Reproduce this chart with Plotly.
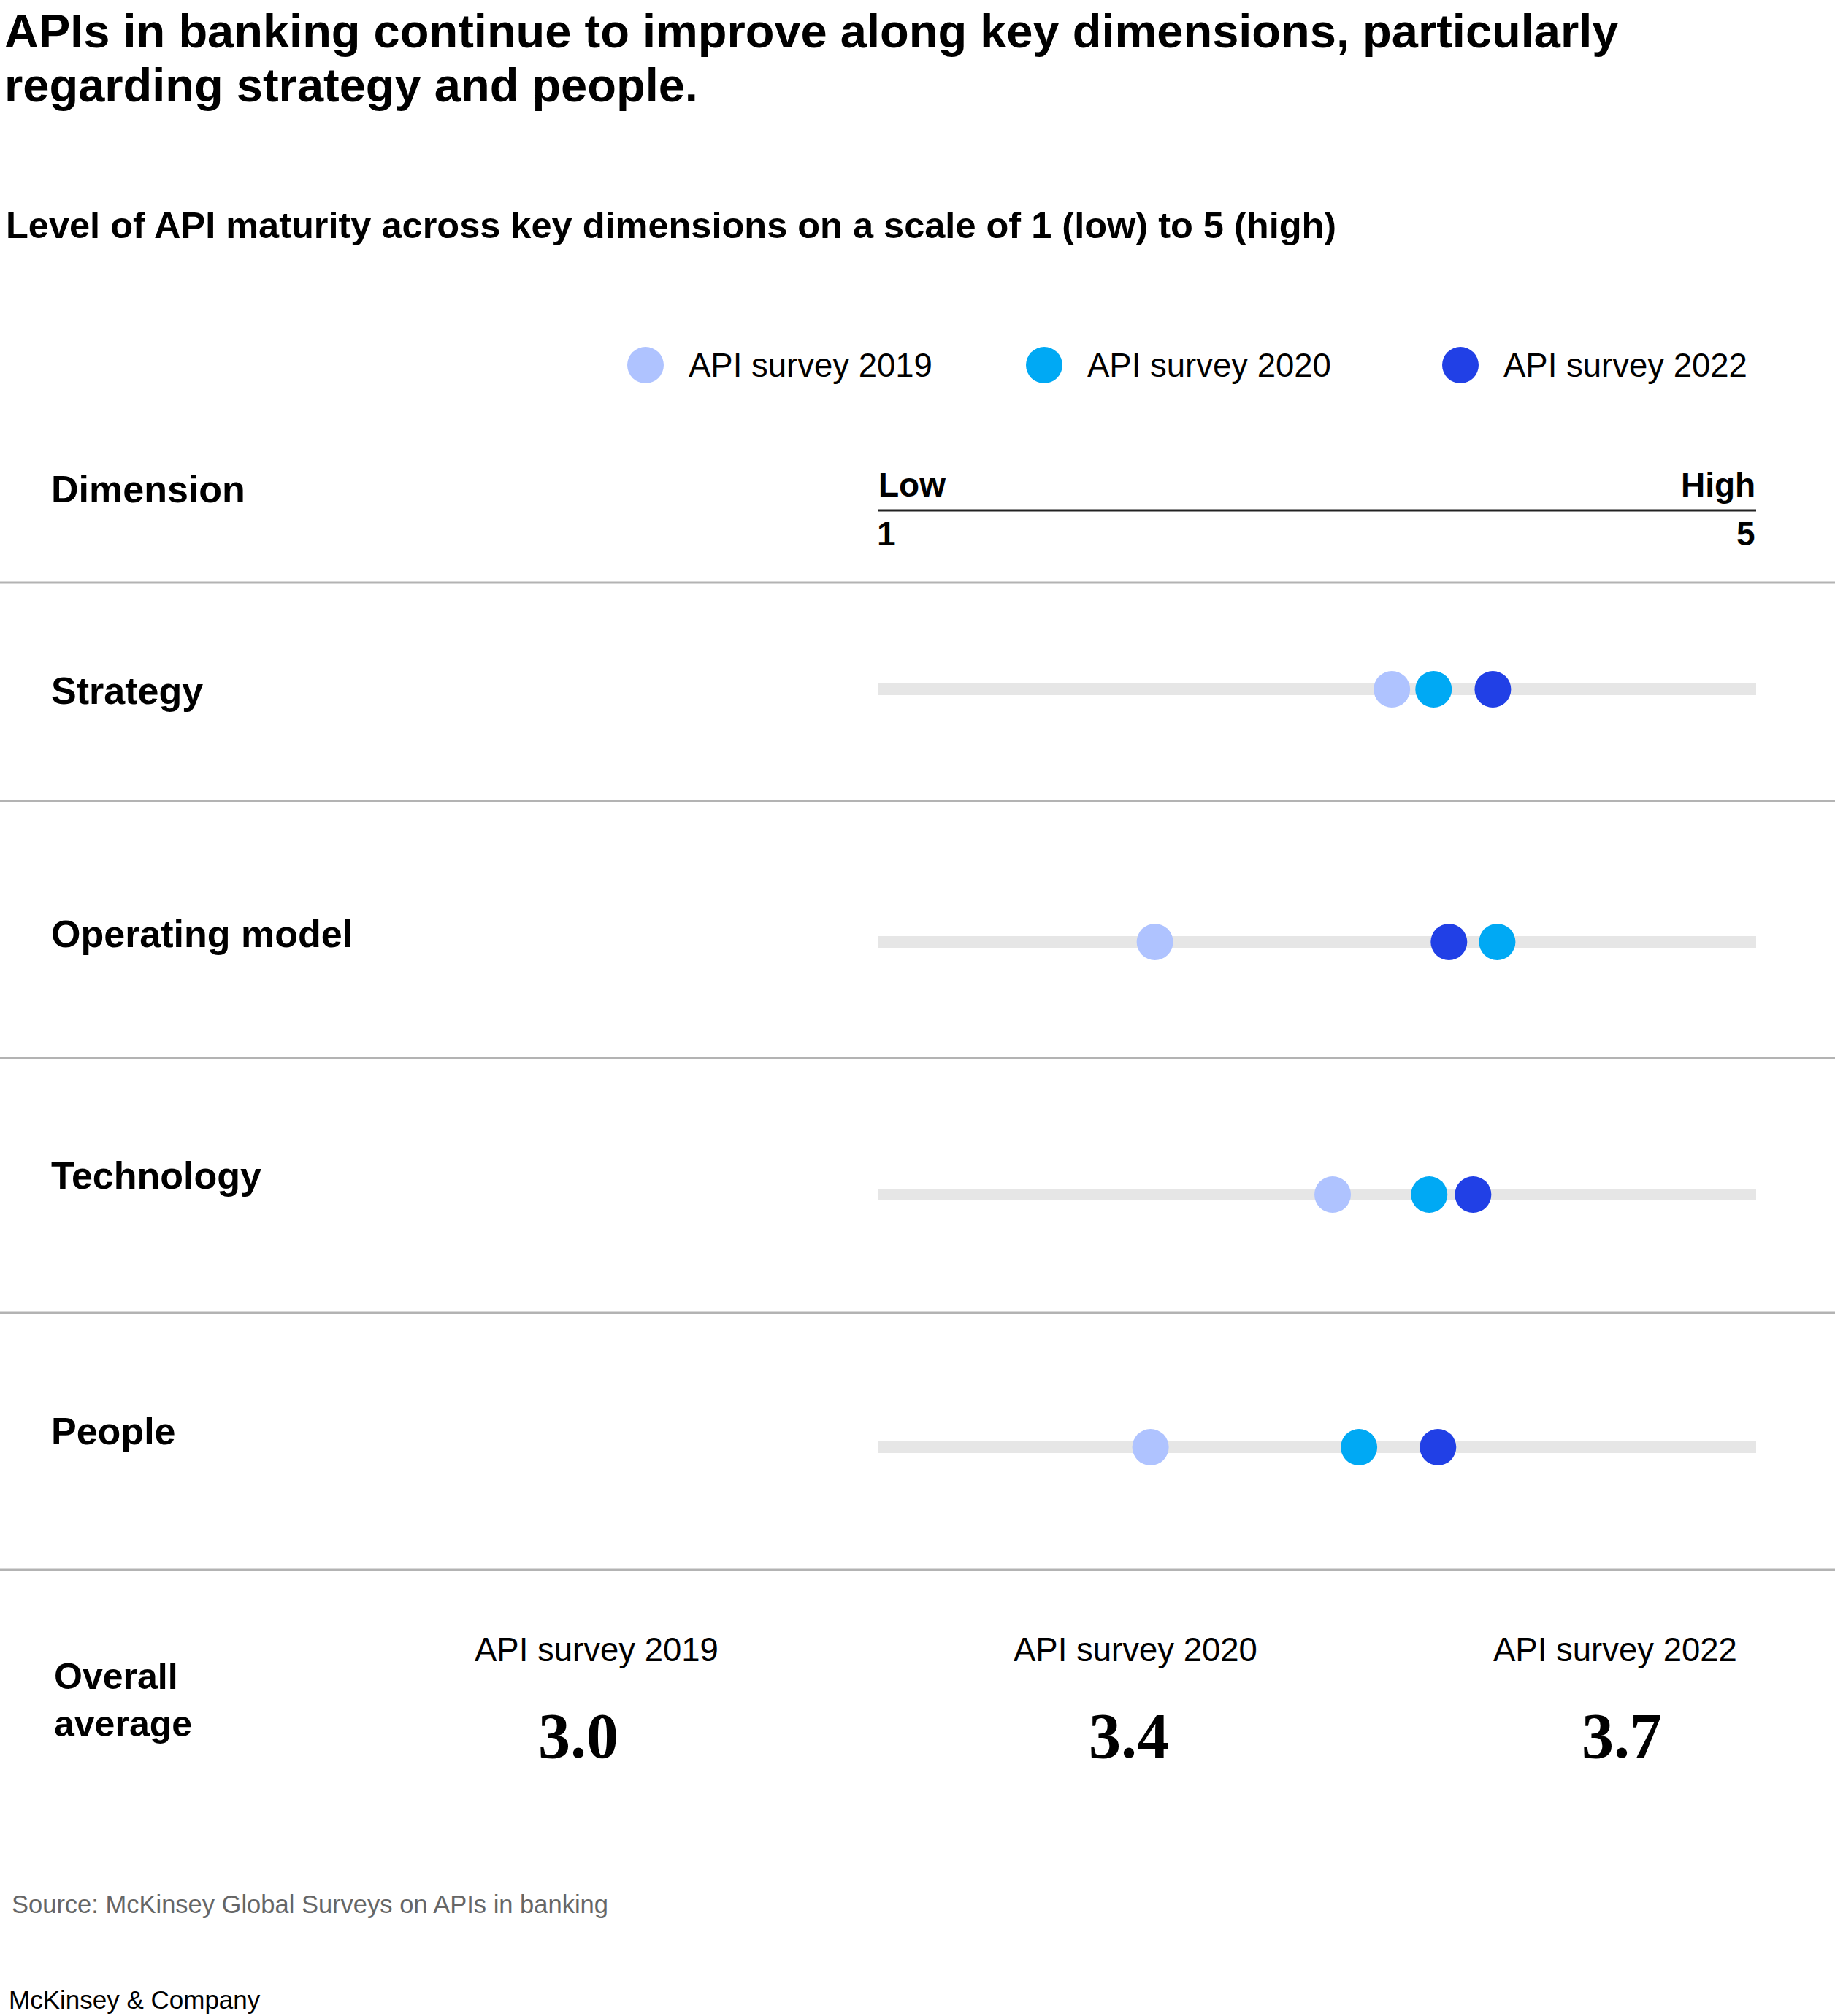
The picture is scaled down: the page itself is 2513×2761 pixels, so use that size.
import plotly.graph_objects as go

# ---------------- data ----------------
dimensions = ["Strategy", "Operating model", "Technology", "People"]
series_names = ["API survey 2019", "API survey 2020", "API survey 2022"]
values_2019 = [3.34, 2.26, 3.07, 2.24]
values_2020 = [3.53, 3.82, 3.51, 3.19]
values_2022 = [3.80, 3.60, 3.71, 3.55]
overall_avg = [3.0, 3.4, 3.7]
scale_min, scale_max = 1, 5
scale_labels = ["Low", "High"]

# ---------------- styles ----------------
W, H = 2513, 2761
colors = ["#AFC3FF", "#00A9F4", "#2140E6"]
track_color = "#E6E6E6"
sans = "Liberation Sans, Arial, sans-serif"
serif = "Liberation Serif, Times New Roman, serif"


def xp(px):
    return px / W


def yp(px):
    return 1 - px / H


row_px = 346
fig = go.Figure()

# track bars
fig.add_trace(go.Bar(
    y=dimensions,
    x=[scale_max - scale_min] * len(dimensions),
    base=[scale_min] * len(dimensions),
    orientation="h",
    width=16 / row_px,
    marker=dict(color=track_color, line=dict(width=0)),
    hoverinfo="skip",
    showlegend=False,
))

for name, vals, col in zip(series_names, [values_2019, values_2020, values_2022], colors):
    fig.add_trace(go.Scatter(
        x=vals, y=dimensions, mode="markers", name=name,
        marker=dict(size=50, color=col, line=dict(width=0)),
        cliponaxis=False, showlegend=False,
    ))

annotations = []
shapes = []


def txt(text, x, y, size, bold=False, anchor="left", color="#000", family=sans):
    t = f"<b>{text}</b>" if bold else text
    annotations.append(dict(
        text=t, x=x, y=y, xref="paper", yref="paper", xanchor=anchor, yanchor="middle",
        showarrow=False, align=anchor if anchor != "center" else "center",
        font=dict(family=family, size=size, color=color),
    ))


# title & subtitle
txt("APIs in banking continue to improve along key dimensions, particularly", xp(4), yp(43), 65, bold=True)
txt("regarding strategy and people.", xp(4), yp(117), 65, bold=True)
txt("Level of API maturity across key dimensions on a scale of 1 (low) to 5 (high)", xp(6), yp(308), 50.5, bold=True)

# legend
legend_dot_x = [884, 1430, 2000]
for name, col, lx in zip(series_names, colors, legend_dot_x):
    shapes.append(dict(type="circle", xref="paper", yref="paper", xsizemode="pixel", ysizemode="pixel",
                       xanchor=xp(lx), yanchor=yp(500), x0=-25, x1=25, y0=-25, y1=25,
                       fillcolor=col, line=dict(width=0)))
    txt(name, xp(lx + 57), yp(500), 45.5)

# header
txt("Dimension", xp(68), yp(670), 52, bold=True)
txt(scale_labels[0], xp(1201), yp(664), 46, bold=True)
txt(scale_labels[1], xp(2406), yp(664), 46, bold=True, anchor="right")
txt(str(scale_min), xp(1199), yp(731), 46, bold=True)
txt(str(scale_max), xp(2406), yp(731), 46, bold=True, anchor="right")
shapes.append(dict(type="line", xref="paper", yref="paper", x0=xp(1203), x1=xp(2405), y0=yp(699), y1=yp(699),
                   line=dict(color="#222222", width=3)))

# row separators
for ypx in [798, 1097, 1449, 1798, 2150]:
    shapes.append(dict(type="line", xref="paper", yref="paper", x0=0, x1=1, y0=yp(ypx), y1=yp(ypx),
                       line=dict(color="#B3B3B3", width=3)))

# row labels
label_y_px = [946, 1279, 1610, 1960]
for d, ly in zip(dimensions, label_y_px):
    txt(d, xp(68), yp(ly), 52, bold=True)

# overall average
txt("Overall<br>average", xp(72), yp(2328), 50, bold=True)
head_x = [817, 1555, 2212]
num_x = [792, 1546, 2221]
for name, hx, nx, v in zip(series_names, head_x, num_x, overall_avg):
    txt(name, xp(hx), yp(2259), 45.5, anchor="center")
    txt(f"{v:.1f}", xp(nx), yp(2377), 88, bold=True, anchor="center", family=serif)

# footer
txt("Source: McKinsey Global Surveys on APIs in banking", xp(14), yp(2608), 34.5, color="#666666")
txt("McKinsey & Company", xp(10), yp(2738), 35, color="#000000")

fig.update_layout(
    width=W, height=H,
    margin=dict(l=0, r=0, t=0, b=0),
    paper_bgcolor="white", plot_bgcolor="white",
    showlegend=False,
    bargap=0,
    annotations=annotations,
    shapes=shapes,
    xaxis=dict(domain=[xp(1203), xp(2405)], range=[scale_min, scale_max], visible=False, fixedrange=True),
    yaxis=dict(domain=[yp(771 + 4 * row_px), yp(771)], type="category",
               categoryorder="array", categoryarray=dimensions,
               range=[len(dimensions) - 0.5, -0.5], visible=False, fixedrange=True),
)

fig.write_html("out.html")
